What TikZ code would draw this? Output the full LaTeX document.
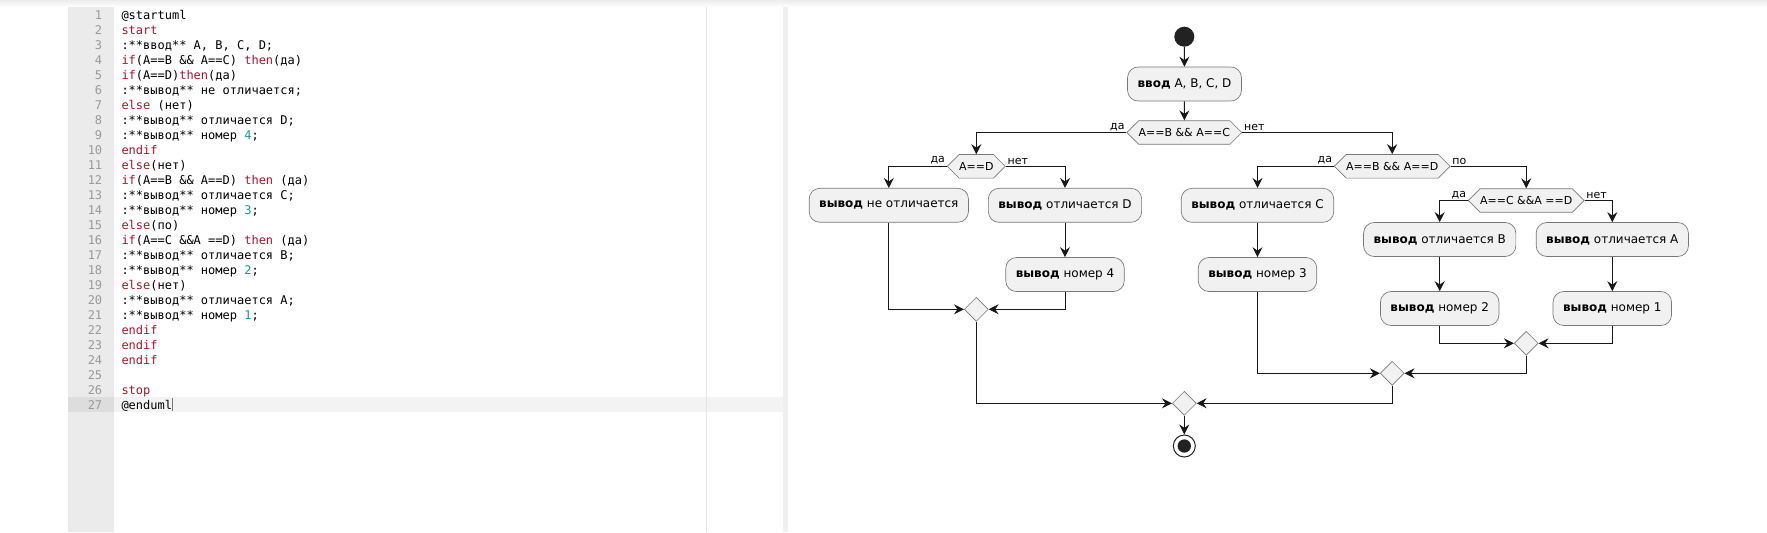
\documentclass[tikz,border=0pt]{standalone}
\usepackage{fontspec}
\setmainfont{DejaVu Sans}
\newfontfamily\codefont{DejaVu Sans Mono}
\usetikzlibrary{shapes.geometric,shapes.symbols,arrows.meta}

\definecolor{kwred}{RGB}{168,20,42}
\definecolor{numteal}{RGB}{20,150,160}
\definecolor{lnumgray}{RGB}{153,153,153}
\definecolor{gutter}{RGB}{235,235,235}
\definecolor{actfill}{RGB}{241,241,241}
\definecolor{actborder}{RGB}{120,120,120}
\definecolor{flowline}{RGB}{24,24,24}

\newcommand{\kw}[1]{\textcolor{kwred}{#1}}
\newcommand{\nm}[1]{\textcolor{numteal}{#1}}

\tikzset{every picture/.style={line width=0.75pt}}
\tikzset{
  codeline/.style={anchor=base west, inner sep=0pt, font=\codefont\fontsize{9}{11}\selectfont},
  lnum/.style={anchor=base east, inner sep=0pt, text=lnumgray, font=\codefont\fontsize{9}{11}\selectfont},
  act/.style={draw=actborder, fill=actfill, line width=0.5pt, rounded corners=8pt, minimum height=25.5pt, inner xsep=7.5pt, font=\fontsize{9}{11}\selectfont},
  cond/.style={draw=actborder, fill=actfill, line width=0.5pt, signal, signal to=west and east, signal pointer angle=90, minimum height=17.7pt, inner xsep=0pt, font=\fontsize{8.25}{10}\selectfont},
  merge/.style={draw=actborder, fill=actfill, line width=0.5pt, diamond, minimum size=18pt, inner sep=0pt},
  lbl/.style={inner sep=1pt, font=\fontsize{8.25}{10}\selectfont},
  flow/.style={draw=flowline, -{Stealth[length=7.5pt,width=7.5pt,inset=2.6pt]}}
}

\begin{document}
\begin{tikzpicture}[x=0.75pt,y=0.75pt,yscale=-1,xscale=1]
	\useasboundingbox (0,0) rectangle (1767,532);

	%Editor background
	\shade [top color={rgb, 255:red, 236; green, 236; blue, 236 }, bottom color=white] (0,0) rectangle (1767,7);
	\fill [gutter] (67.5,7) rectangle (113.5,532);
	\fill [color={rgb, 255:red, 243; green, 243; blue, 243 }] (113.5,396.7) rectangle (783,411.7);
	\fill [color={rgb, 255:red, 221; green, 221; blue, 221 }] (67.5,396.7) rectangle (113.5,411.7);
	\draw [color={rgb, 255:red, 228; green, 228; blue, 228 }] (706.3,7) -- (706.3,532);
	\fill [color={rgb, 255:red, 239; green, 239; blue, 239 }] (783.3,7) rectangle (788,532);
	%Cursor
	\draw [color={rgb, 255:red, 120; green, 120; blue, 120 }, line width=0.5pt] (172.7,398) -- (172.7,411);

	%Line numbers
	\foreach \i in {1,...,27}
		\node [lnum] (ln\i) at (102.7,{19+15*(\i-1)}) {\i};

	%Code
	\node [codeline] (c1) at (121,19) {@startuml};
	\node [codeline] (c2) at (121,34) {\kw{start}};
	\node [codeline] (c3) at (121,49) {:**ввод** A, B, C, D;};
	\node [codeline] (c4) at (121,64) {\kw{if}(A==B \&\& A==C) \kw{then}(да)};
	\node [codeline] (c5) at (121,79) {\kw{if}(A==D)\kw{then}(да)};
	\node [codeline] (c6) at (121,94) {:**вывод** не отличается;};
	\node [codeline] (c7) at (121,109) {\kw{else} (нет)};
	\node [codeline] (c8) at (121,124) {:**вывод** отличается D;};
	\node [codeline] (c9) at (121,139) {:**вывод** номер \nm{4};};
	\node [codeline] (c10) at (121,154) {\kw{endif}};
	\node [codeline] (c11) at (121,169) {\kw{else}(нет)};
	\node [codeline] (c12) at (121,184) {\kw{if}(A==B \&\& A==D) \kw{then} (да)};
	\node [codeline] (c13) at (121,199) {:**вывод** отличается C;};
	\node [codeline] (c14) at (121,214) {:**вывод** номер \nm{3};};
	\node [codeline] (c15) at (121,229) {\kw{else}(по)};
	\node [codeline] (c16) at (121,244) {\kw{if}(A==C \&\&A ==D) \kw{then} (да)};
	\node [codeline] (c17) at (121,259) {:**вывод** отличается B;};
	\node [codeline] (c18) at (121,274) {:**вывод** номер \nm{2};};
	\node [codeline] (c19) at (121,289) {\kw{else}(нет)};
	\node [codeline] (c20) at (121,304) {:**вывод** отличается A;};
	\node [codeline] (c21) at (121,319) {:**вывод** номер \nm{1};};
	\node [codeline] (c22) at (121,334) {\kw{endif}};
	\node [codeline] (c23) at (121,349) {\kw{endif}};
	\node [codeline] (c24) at (121,364) {\kw{endif}};
	\node [codeline] (c26) at (121,394) {\kw{stop}};
	\node [codeline] (c27) at (121,409) {@enduml};

	%Start / stop
	\node [circle, fill={rgb, 255:red, 34; green, 34; blue, 34 }, minimum size=15pt, inner sep=0pt] (start) at (1184.3,36.7) {};
	\node [circle, draw={rgb, 255:red, 34; green, 34; blue, 34 }, fill=white, minimum size=16.5pt, inner sep=0pt] (stop) at (1184.3,446) {};
	\node [circle, fill={rgb, 255:red, 34; green, 34; blue, 34 }, minimum size=10pt, inner sep=0pt] (stopdot) at (stop) {};

	%Actions
	\node [act] (input) at (1184.5,84) {\textbf{ввод} A, B, C, D};
	\node [act] (bNot) at (888.8,205.3) {\textbf{вывод} не отличается};
	\node [act] (bD) at (1065,205.3) {\textbf{вывод} отличается D};
	\node [act] (b4) at (1065,274.5) {\textbf{вывод} номер 4};
	\node [act] (bC) at (1257.5,205.3) {\textbf{вывод} отличается C};
	\node [act] (b3) at (1257.5,274.5) {\textbf{вывод} номер 3};
	\node [act] (bB) at (1439.7,239.5) {\textbf{вывод} отличается B};
	\node [act] (bA) at (1612.3,239.5) {\textbf{вывод} отличается A};
	\node [act] (b2) at (1439.7,308.5) {\textbf{вывод} номер 2};
	\node [act] (b1) at (1612.3,308.5) {\textbf{вывод} номер 1};

	%Conditions
	\node [cond] (d1) at (1184.3,132.5) {A==B \&\& A==C};
	\node [cond] (d2) at (976.3,166.3) {A==D};
	\node [cond] (d3) at (1392.2,166.3) {A==B \&\& A==D};
	\node [cond] (d4) at (1526.2,200.5) {A==C \&\&A ==D};

	%Merges
	\node [merge] (m1) at (976.3,309.3) {};
	\node [merge] (m3) at (1526.2,343.3) {};
	\node [merge] (m2) at (1392.2,373.3) {};
	\node [merge] (m0) at (1184.3,403.3) {};

	%Branch labels
	\node [lbl, anchor=south east] (d1yes) at (d1.west) {да};
	\node [lbl, anchor=south west] (d1no) at (d1.east) {нет};
	\node [lbl, anchor=south east] (d2yes) at (d2.west) {да};
	\node [lbl, anchor=south west] (d2no) at (d2.east) {нет};
	\node [lbl, anchor=south east] (d3yes) at (d3.west) {да};
	\node [lbl, anchor=south west] (d3no) at (d3.east) {по};
	\node [lbl, anchor=south east] (d4yes) at (d4.west) {да};
	\node [lbl, anchor=south west] (d4no) at (d4.east) {нет};

	%Flow
	\draw [flow] (start) -- (input);
	\draw [flow] (input) -- (d1);
	\draw [flow] (d1.west) -| (d2.north);
	\draw [flow] (d1.east) -| (d3.north);
	\draw [flow] (d2.west) -| (bNot.north);
	\draw [flow] (d2.east) -| (bD.north);
	\draw [flow] (bD) -- (b4);
	\draw [flow] (bNot.south) |- (m1.west);
	\draw [flow] (b4.south) |- (m1.east);
	\draw [flow] (d3.west) -| (bC.north);
	\draw [flow] (d3.east) -| (d4.north);
	\draw [flow] (bC) -- (b3);
	\draw [flow] (d4.west) -| (bB.north);
	\draw [flow] (d4.east) -| (bA.north);
	\draw [flow] (bB) -- (b2);
	\draw [flow] (bA) -- (b1);
	\draw [flow] (b2.south) |- (m3.west);
	\draw [flow] (b1.south) |- (m3.east);
	\draw [flow] (b3.south) |- (m2.west);
	\draw [flow] (m3.south) |- (m2.east);
	\draw [flow] (m1.south) |- (m0.west);
	\draw [flow] (m2.south) |- (m0.east);
	\draw [flow] (m0) -- (stop);

\end{tikzpicture}
\end{document}
